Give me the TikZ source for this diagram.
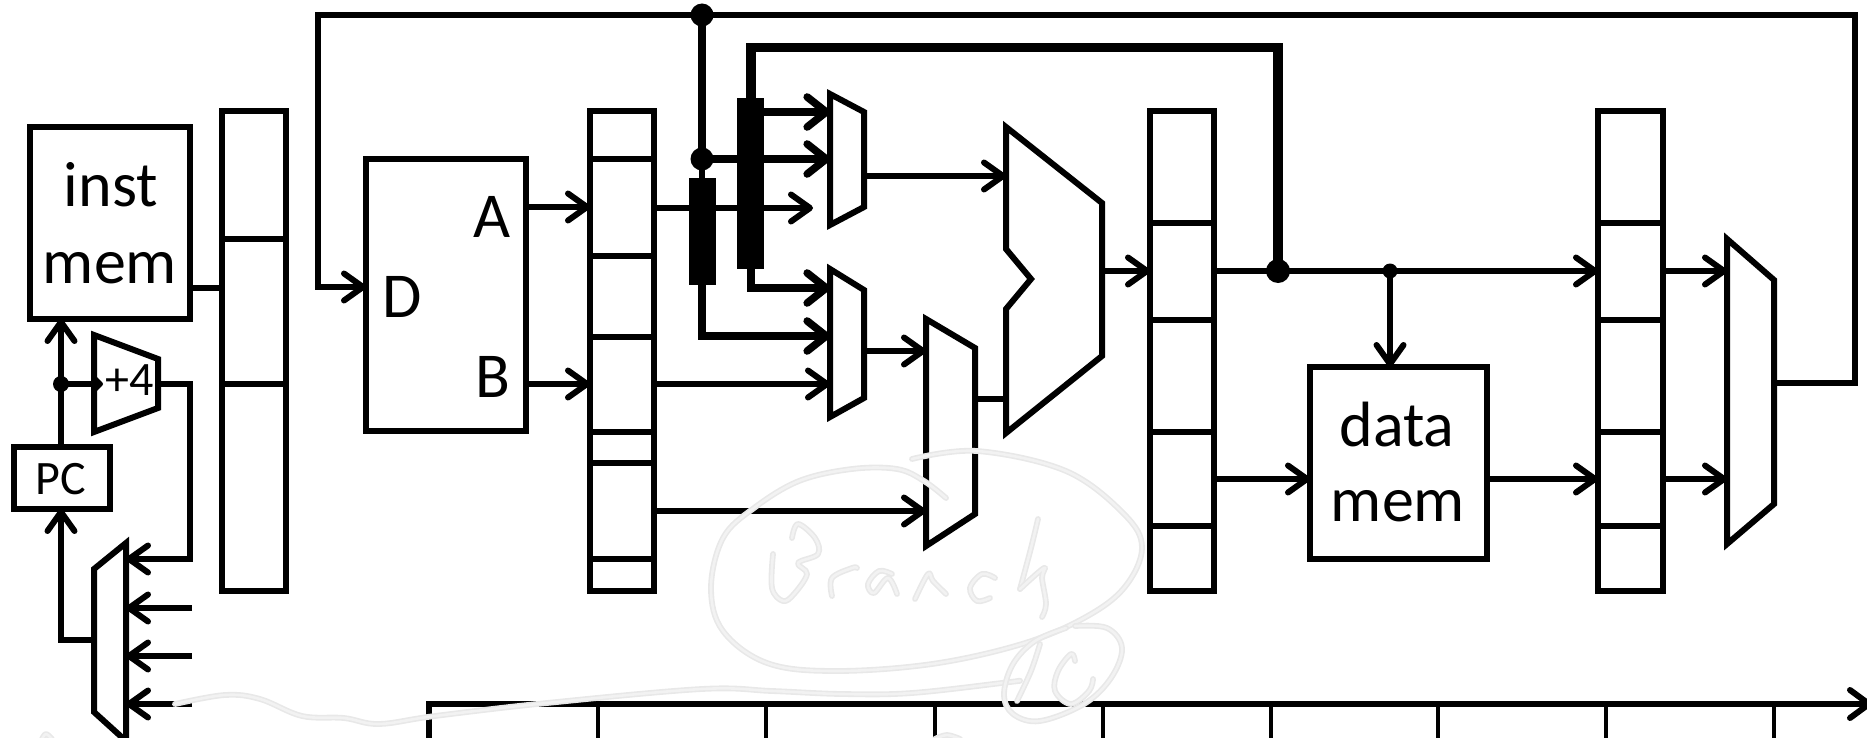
\documentclass[tikz,border=0pt]{standalone}
\usepackage{fontspec}
\setmainfont{Carlito}
\usetikzlibrary{arrows.meta,fit,calc}
\newcommand\rectnode[6][]{\coordinate (#2-nw) at (#3,#4);\coordinate (#2-se) at (#5,#6);\node[boxn,fit=(#2-nw)(#2-se),#1] (#2) {};}
\tikzset{
  boxn/.style={draw=black,line width=3pt,inner sep=0pt,outer sep=0pt},
  shapeln/.style={draw=black,line width=3pt,line join=miter},
  wire/.style={draw=black,line width=2.8pt,line cap=butt},
  arr/.style={wire,-{Straight Barb[length=9.5pt,width=13.5pt,round,line width=3pt]}},
  heavy/.style={draw=black,line width=4pt},
  harr/.style={heavy,-{Straight Barb[length=9.5pt,width=15pt,round,line width=3.8pt]}},
  tinyarr/.style={wire,-{Straight Barb[length=3.5pt,width=7pt,round,line width=2pt]}},
  bar/.style={fill=black,draw=none,inner sep=0pt,outer sep=0pt},
  dotn/.style={circle,fill=black,draw=none,inner sep=0pt,outer sep=0pt},
  lab/.style={font=\fontsize{32}{38}\selectfont,anchor=base,inner sep=0pt},
  smalllab/.style={font=\fontsize{24}{28}\selectfont,anchor=base,inner sep=0pt},
  ink/.style={line width=0.8pt,draw=black!9,double=black!5,double distance=1.3pt,line cap=round,line join=round},
  tick/.style={draw=black,line width=1.7pt},
  rail/.style={draw=black,line width=3.2pt}
}
\begin{document}
\begin{tikzpicture}[x=0.5pt,y=-0.5pt]
\useasboundingbox (0,-1) rectangle (1867,737);
% boxes
\rectnode{imem}{29.5}{126}{190}{318}
\rectnode{pc}{14}{446}{110}{508}
\rectnode{rf}{366}{158}{526}{430}
\rectnode{dmem}{1310}{366}{1487}{558}
\rectnode{rega}{222}{110.5}{286}{590}
\rectnode{regb}{590}{110.5}{654}{590}
\rectnode{regc}{1150}{110.5}{1214}{590}
\rectnode{regd}{1598}{110.5}{1663}{590}
% register dividers
\foreach \y in {238,383} \draw[boxn] (rega.west |- 0,\y) -- (rega.east |- 0,\y);
\foreach \y in {158,255,336,431,462,558} \draw[boxn] (regb.west |- 0,\y) -- (regb.east |- 0,\y);
\foreach \y in {222,319,431,525} \draw[boxn] (regc.west |- 0,\y) -- (regc.east |- 0,\y);
\foreach \y in {222,319,431,525} \draw[boxn] (regd.west |- 0,\y) -- (regd.east |- 0,\y);
% trapezoids
\draw[shapeln] (94,334) -- (158,358) -- (158,407) -- (94,431) -- cycle;
\draw[shapeln] (126,542) -- (126,740) -- (94,711) -- (94,568) -- cycle;
\draw[shapeln] (830,93) -- (864,111) -- (864,206) -- (830,224) -- cycle;
\draw[shapeln] (830,268) -- (864,289) -- (864,397) -- (830,416) -- cycle;
\draw[shapeln] (926,318) -- (975,347) -- (975,513) -- (926,545) -- cycle;
\draw[shapeln] (1006,126) -- (1102,202) -- (1102,355) -- (1006,432) -- (1006,308) -- (1031,278) -- (1006,248) -- cycle;
\draw[shapeln] (1727,238) -- (1774,279) -- (1774,503) -- (1727,543) -- cycle;
% ports
\coordinate (splitpc) at (61,383);
\coordinate (adderOut) at (158,383);
\coordinate (npcCorner) at (190,383);
\coordinate (npcLow) at (190,558);
\coordinate (muxpcA) at (126,558);
\coordinate (muxpcB) at (126,607);
\coordinate (muxpcC) at (126,655);
\coordinate (muxpcD) at (126,703);
\coordinate (srcB) at (192,607);
\coordinate (srcC) at (192,655);
\coordinate (srcD) at (192,703);
\coordinate (muxpcOut) at (94,639);
\coordinate (pcLow) at (61,639);
% PC area wires
\draw[arr] (pc.north -| splitpc) -- (imem.south -| splitpc);
\draw[tinyarr] (splitpc) -- (103,383);
\draw[wire,line width=3.2pt,line join=miter] (adderOut) -- (npcCorner) -- (npcLow) -- (150,558);
\draw[arr] (npcLow) -- (muxpcA);
\draw[arr] (srcB) -- (muxpcB);
\draw[arr] (srcC) -- (muxpcC);
\draw[arr] (srcD) -- (muxpcD);
\draw[arr,line join=miter] (muxpcOut) -- (pcLow) -- (pc.south -| pcLow);
\draw[wire] (imem.east |- 0,287) -- (rega.west |- 0,287);
% write-back
\coordinate (wbStart) at (1774,382);
\coordinate (wbRight) at (1855,382);
\coordinate (wbTop) at (1855,14);
\coordinate (wbLeft) at (318,14);
\coordinate (wbLow) at (318,286);
\draw[arr,line join=miter,line width=3pt] (wbStart) -- (wbRight) -- (wbTop) -- (wbLeft) -- (wbLow) -- (rf.west |- wbLow);
% RF to register
\draw[arr] (rf.east |- 0,206) -- (regb.west |- 0,206);
\draw[arr] (rf.east |- 0,383) -- (regb.west |- 0,383);
% bypass wires
\coordinate (wbDot) at (702,14);
\coordinate (wbTap) at (702,158);
\coordinate (exCorner) at (1278,46.5);
\coordinate (exCornerL) at (751,46.5);
\coordinate (exDot) at (1278,270);
\coordinate (memDot) at (1390,270);
\coordinate (barbLow) at (702,335);
\coordinate (baraLow) at (751,287);
\draw[wire,line width=3.6pt] (wbDot) -- (wbTap);
\draw[wire,line width=3.2pt] (wbTap) -- (702,180);
\draw[heavy,line width=4.6pt,line join=miter] (exDot) -- (exCorner) -- (exCornerL) -- (751,100);
\draw[arr] (regb.east |- 0,207) -- (813,207);
\draw[harr] (751,111) -- (830,111);
\draw[harr] (wbTap) -- (830,158);
\draw[harr,line join=miter] (751,260) -- (baraLow) -- (830,287);
\draw[harr,line join=miter] (702,280) -- (barbLow) -- (830,335);
\draw[arr] (regb.east |- 0,383) -- (830,383);
\draw[arr] (regb.east |- 0,510) -- (926,510);
\node[bar,minimum width=13.5pt,minimum height=85.5pt,anchor=north] (barA) at (750.5,97) {};
\node[bar,minimum width=13.5pt,minimum height=53.5pt,anchor=north] (barB) at (702.5,177) {};
% datapath
\draw[arr] (864,175) -- (1006,175);
\draw[arr] (864,350) -- (926,350);
\draw[wire,line width=3.2pt] (975,398) -- (1006,398);
\draw[arr] (1102,270) -- (regc.west |- exDot);
\draw[arr] (regc.east |- exDot) -- (regd.west |- exDot);
\draw[arr] (memDot) -- (dmem.north -| memDot);
\draw[arr] (regc.east |- 0,478) -- (dmem.west |- 0,478);
\draw[arr] (dmem.east |- 0,478) -- (regd.west |- 0,478);
\draw[arr] (regd.east |- exDot) -- (1727,270);
\draw[arr] (regd.east |- 0,478) -- (1727,478);
% dots
\node[dotn,minimum size=11.5pt] (d1) at (wbDot) {};
\node[dotn,minimum size=11.5pt] (d2) at (wbTap) {};
\node[dotn,minimum size=12pt] (d3) at (exDot) {};
\node[dotn,minimum size=7.5pt] (d4) at (memDot) {};
\node[dotn,minimum size=8pt] (d5) at (splitpc) {};
% timeline
\coordinate (tlStart) at (429,740);
\coordinate (tlCorner) at (429,703);
\draw[rail,line join=miter,-{Straight Barb[length=9.5pt,width=14pt,round,line width=3pt]}] (tlStart) -- (tlCorner) -- (1872,703);
\foreach \x in {598,766,935,1103,1271,1438,1606,1774} \draw[tick] (\x,703) -- (\x,740);
% text
\node[lab] (t1) at (111,205) {inst};
\node[lab] (t2) at (110,282) {mem};
\node[lab] (t3) at (1397,445) {data};
\node[lab] (t4) at (1398,520) {mem};
\node[lab] (t5) at (492,236) {A};
\node[lab] (t6) at (493,396) {B};
\node[lab] (t7) at (402,316) {D};
\node[smalllab] (t8) at (61,493) {PC};
\node[smalllab] (t9) at (130,394) {+4};
% handwriting
\draw[ink] plot[smooth,tension=0.6] coordinates {(912,458) (977,450) (1066,470) (1124,513) (1142,547) (1124,587) (1084,617) (1022,643) (932,663) (834,670) (767,662) (723,630) (711,587) (723,537) (754,507) (799,480) (852,468) (897,468) (924,480) (946,497)};
\draw[ink] plot[smooth,tension=0.6] coordinates {(792,537) (798,523) (815,537) (818,553) (798,562) (807,573) (794,593) (783,600) (772,587) (773,553)};
\draw[ink] plot[smooth,tension=0.6] coordinates {(832,595) (832,577) (852,567) (857,567)};
\draw[ink] plot[smooth,tension=0.6] coordinates {(892,573) (879,570) (868,583) (874,592) (888,577) (897,593)};
\draw[ink] plot[smooth,tension=0.6] coordinates {(915,598) (928,573) (933,580) (946,593)};
\draw[ink] plot[smooth,tension=0.6] coordinates {(995,577) (982,573) (970,587) (977,600) (990,597)};
\draw[ink] plot[smooth,tension=0.6] coordinates {(1038,518) (1031,547) (1020,588)};
\draw[ink] plot[smooth,tension=0.6] coordinates {(1020,588) (1044,567) (1042,577) (1046,603) (1042,616)};
\draw[ink] plot[smooth,tension=0.6] coordinates {(175,703) (225,694) (260,698) (302,715) (344,717) (379,723) (435,715) (547,702) (702,688) (772,690) (842,693) (912,692) (1010,681) (1017,680)};
\draw[ink] plot[smooth,tension=0.6] coordinates {(1075,625) (1107,627) (1122,647) (1111,677) (1084,703) (1040,720) (1013,713) (1004,693) (1013,663) (1035,640) (1066,627)};
\draw[ink] plot[smooth,tension=0.6] coordinates {(1040,643) (1031,670) (1017,700)};
\draw[ink] plot[smooth,tension=0.6] coordinates {(1075,660) (1071,653) (1058,670) (1055,690) (1071,703) (1089,690) (1093,678)};
\draw[ink] plot[smooth,tension=0.6] coordinates {(42,738) (46,733) (52,738)};
\draw[ink] plot[smooth,tension=0.6] coordinates {(935,738) (947,734) (960,738)};
\end{tikzpicture}
\end{document}
